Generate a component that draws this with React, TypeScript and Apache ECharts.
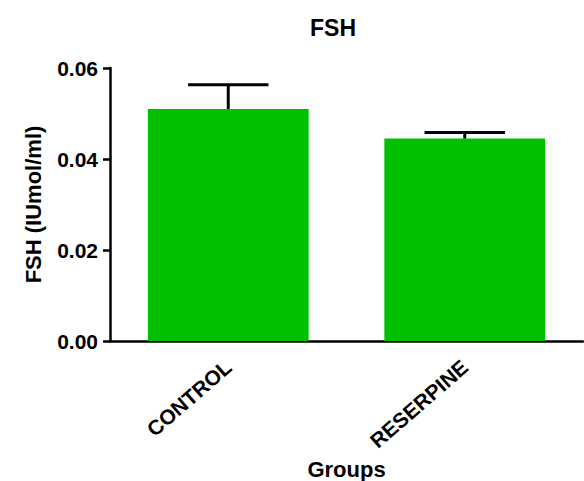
import React, { useEffect, useRef } from "react";
import * as echarts from "echarts";

const categories = ["CONTROL", "RESERPINE"];
const means = [0.0510, 0.0445];
const sem = [0.0053, 0.0013];
const yTicks = [0, 0.02, 0.04, 0.06];

const FONT = "'Liberation Sans', Arial, sans-serif";

export default function App() {
  const ref = useRef<HTMLDivElement>(null);
  useEffect(() => {
    if (!ref.current) return;
    const chart = echarts.init(ref.current, undefined, { renderer: "svg" });
    const errData = categories.map((_, i) => [i, means[i], means[i] + sem[i]]);
    chart.setOption({
      animation: false,
      backgroundColor: "#ffffff",
      title: {
        text: "FSH",
        left: 305,
        top: 11,
        textStyle: { fontFamily: FONT, fontWeight: "bold", fontSize: 23, color: "#000" },
      },
      grid: { left: 110, right: 1, top: 68, bottom: 140, containLabel: false, outerBoundsMode: "none" },
      xAxis: {
        type: "category",
        data: categories,
        name: "Groups",
        nameLocation: "middle",
        nameGap: 113,
        nameTextStyle: { fontFamily: FONT, fontWeight: "bold", fontSize: 22, color: "#000" },
        axisLine: { lineStyle: { color: "#000", width: 2.5 } },
        axisTick: { alignWithLabel: true, length: 7, lineStyle: { color: "#000", width: 2.5 } },
        axisLabel: {
          rotate: 41,
          margin: 23,
          interval: 0,
          fontFamily: FONT,
          fontWeight: "bold",
          fontSize: 21,
          color: "#000",
        },
      },
      yAxis: {
        type: "value",
        min: yTicks[0],
        max: yTicks[yTicks.length - 1],
        interval: 0.02,
        name: "FSH (IUmol/ml)",
        nameLocation: "middle",
        nameGap: 66,
        nameTextStyle: { fontFamily: FONT, fontWeight: "bold", fontSize: 22, color: "#000" },
        splitLine: { show: false },
        axisLine: { show: true, lineStyle: { color: "#000", width: 2.5 } },
        axisTick: { show: true, length: 7, lineStyle: { color: "#000", width: 2.5 } },
        axisLabel: {
          margin: 12,
          formatter: (v: number) => v.toFixed(2),
          fontFamily: FONT,
          fontWeight: "bold",
          fontSize: 21,
          color: "#000",
        },
      },
      series: [
        {
          type: "bar",
          data: means,
          barWidth: "68%",
          itemStyle: { color: "#00C000" },
        },
        {
          type: "custom",
          data: errData,
          z: 10,
          renderItem: (params: any, api: any) => {
            const i = api.value(0);
            const lo = api.coord([i, api.value(1)]);
            const hi = api.coord([i, api.value(2)]);
            const half = api.size([1, 0])[0] * 0.17;
            const style = { stroke: "#000", lineWidth: 3 };
            return {
              type: "group",
              children: [
                { type: "line", shape: { x1: lo[0], y1: lo[1], x2: hi[0], y2: hi[1] }, style },
                { type: "line", shape: { x1: hi[0] - half, y1: hi[1], x2: hi[0] + half, y2: hi[1] }, style },
              ],
            };
          },
        },
      ],
    });
    return () => chart.dispose();
  }, []);
  return <div ref={ref} style={{ width: 584, height: 481, position: "absolute", left: 0, top: 0 }} />;
}
